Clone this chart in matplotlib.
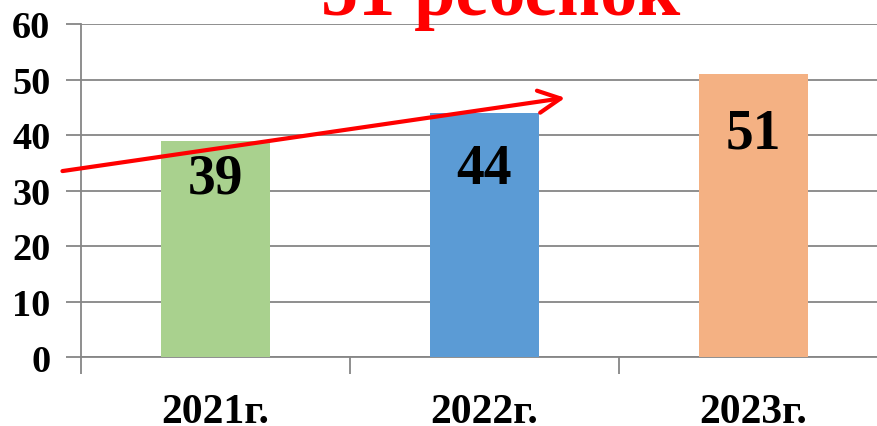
import matplotlib
matplotlib.use('Agg')
from matplotlib import pyplot as plt
import numpy as np

# data
years = ['2021г.', '2022г.', '2023г.']
counts = [39, 44, 51]
bar_colors = ['#A9D18E', '#5B9BD5', '#F4B183']
title = '51 ребенок'
yticks = [0, 10, 20, 30, 40, 50, 60]

plt.rcParams['font.family'] = ['Liberation Serif', 'DejaVu Serif']
plt.rcParams['font.weight'] = 'bold'

fig = plt.figure(figsize=(8.77, 4.27), dpi=100)
ax = fig.add_axes([81/877, 1-358/427, 1-81/877, (358-25)/427])

x = np.arange(len(years))
bars = ax.bar(x, counts, width=0.405, color=bar_colors, zorder=3)

ax.set_xlim(-0.5, 2.461)
ax.set_ylim(0, 60)
ax.set_yticks(yticks)
ax.set_xticks(x)
ax.set_xticklabels(years, fontsize=30, fontweight='bold')
ax.set_yticklabels([str(t) for t in yticks], fontsize=27.5, fontweight='bold')
ax.tick_params(axis='x', length=0, pad=26)
ax.tick_params(axis='y', length=11, width=1.3, color='#868686', pad=11)

# category boundary ticks
ax.set_xticks([-0.5, 0.5, 1.5], minor=True)
ax.tick_params(axis='x', which='minor', length=12, width=1.3, color='#868686')

ax.grid(axis='y', color='#868686', linewidth=1.3, zorder=0)
for s in ['top', 'right']:
    ax.spines[s].set_visible(False)
ax.spines['left'].set_color('#868686')
ax.spines['left'].set_linewidth(1.3)
ax.spines['bottom'].set_color('#868686')
ax.spines['bottom'].set_linewidth(1.3)

# value labels inside the bars
offsets = [-12, -30, -34]
for b, v, off in zip(bars, counts, offsets):
    ax.annotate(str(v), (b.get_x() + b.get_width()/2, v), xytext=(0, off),
                textcoords='offset pixels', ha='center', va='top',
                fontsize=40, fontweight='bold', color='black', zorder=5)

# trend arrow
ax.annotate('', xy=(1.301, 46.7), xytext=(-0.569, 33.5),
            arrowprops=dict(arrowstyle='->', color='#FF0000', lw=3,
                            mutation_scale=40, shrinkA=0, shrinkB=0),
            annotation_clip=False, zorder=6)

fig.text(501/877, 1-15/427, title, ha='center', va='baseline', fontsize=53.5,
         fontweight='bold', color='#FF0000')

fig.savefig('out.png', dpi=100)
